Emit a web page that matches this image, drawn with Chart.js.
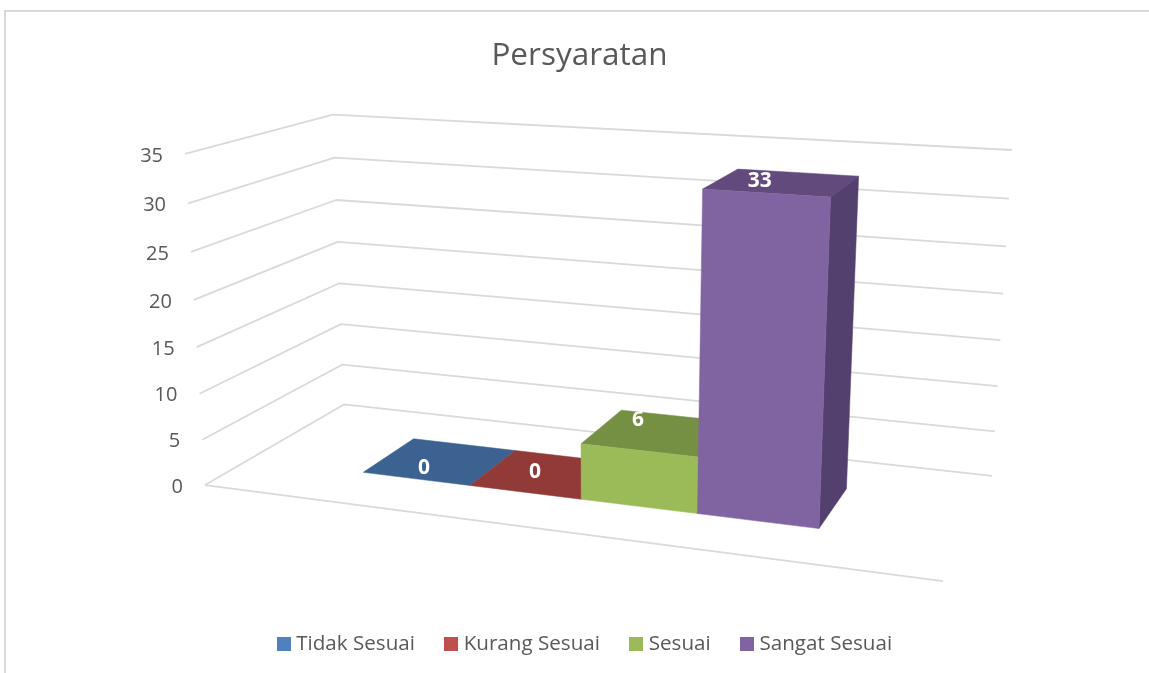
<!DOCTYPE html>
<html><head><meta charset="utf-8">
<style>html,body{margin:0;padding:0;background:#fff}canvas{display:block}</style>
<script src="https://cdn.jsdelivr.net/npm/chart.js@4"></script></head>
<body><div style="width:1149px;height:673px"><canvas id="c" width="1149" height="673"></canvas></div>
<script>
const categories = ["Persyaratan"];
const seriesNames = ["Tidak Sesuai","Kurang Sesuai","Sesuai","Sangat Sesuai"];
const seriesValues = [0,0,6,33];
const frontColors = ["#4F81BD","#C0504D","#9BBB59","#8064A2"];
const topColors = ["#3C6291","#923A38","#758F43","#624A7C"];
const sideColors = ["#2F4D73","#732D2B","#5D7235","#54406F"];
const legendColors = ["#4F81BD","#C0504D","#9BBB59","#8064A2"];
const yMax = 35, yStep = 5;

// Camera: box corners (u along categories, d into depth, w up) and where they appear.
const camera = [
 [0,0,0,205,485],[1,0,0,943,581],[1,1,0,992,476],[0,1,0,344,404.5],
 [0,0,1,185,154],[1,1,1,1012,150],[0,1,1,333,114.5]
];
const depthFront = 0.30, depthBack = 0.70, categoryPct = 0.645;
const labelNudge = [[8,-11],[10,-20],[-1,-30],[-6,-12]];

function solveCamera(pts){
  const A=[],b=[];
  pts.forEach(([u,d,w,x,y])=>{
    A.push([u,d,w,1,0,0,0,0,-x*u,-x*d,-x*w]);b.push(x);
    A.push([0,0,0,0,u,d,w,1,-y*u,-y*d,-y*w]);b.push(y);
  });
  const n=11,M=[];
  for(let i=0;i<n;i++){M.push([]);for(let j=0;j<n;j++){let s=0;A.forEach(r=>s+=r[i]*r[j]);M[i].push(s);}
    let s=0;A.forEach((r,k)=>s+=r[i]*b[k]);M[i].push(s);}
  for(let i=0;i<n;i++){let p=i;for(let k=i+1;k<n;k++)if(Math.abs(M[k][i])>Math.abs(M[p][i]))p=k;
    [M[i],M[p]]=[M[p],M[i]];
    for(let k=0;k<n;k++){if(k===i)continue;const f=M[k][i]/M[i][i];for(let j=i;j<=n;j++)M[k][j]-=f*M[i][j];}}
  return M.map((r,i)=>r[n]/r[i]);
}
const P=solveCamera(camera);
function project(u,d,w){
  const q=P[8]*u+P[9]*d+P[10]*w+1;
  return [(P[0]*u+P[1]*d+P[2]*w+P[3])/q,(P[4]*u+P[5]*d+P[6]*w+P[7])/q];
}
function poly(ctx,pts,fill){
  ctx.beginPath();pts.forEach((p,i)=>i?ctx.lineTo(p[0],p[1]):ctx.moveTo(p[0],p[1]));ctx.closePath();
  ctx.fillStyle=fill;ctx.strokeStyle=fill;ctx.lineWidth=0.5;ctx.fill();ctx.stroke();
}
function swatch(color){
  const s=document.createElement('canvas');s.width=14;s.height=14;
  const g=s.getContext('2d');g.fillStyle=color;g.fillRect(0,0,14,14);return s;
}
const FONT='"Open Sans", sans-serif';

const scene={
  id:'scene3d',
  beforeDraw(chart){
    const ctx=chart.ctx;ctx.save();
    ctx.fillStyle='#fff';ctx.fillRect(0,0,chart.width,chart.height);
    ctx.fillStyle='#D9D9D9';ctx.fillRect(4,10,chart.width-4,2);ctx.fillRect(4,10,2,chart.height-10);
    ctx.restore();
  },
  beforeDatasetsDraw(chart){
    const ctx=chart.ctx,a=chart.chartArea,y=chart.scales.y;
    const U=px=>(px-a.left)/(a.right-a.left), W=py=>(a.bottom-py)/(a.bottom-a.top);
    ctx.save();
    ctx.strokeStyle='#D9D9D9';ctx.lineWidth=1.8;ctx.lineJoin='round';
    // wall gridlines and tick labels from the value scale
    y.ticks.forEach((t,i)=>{
      const w=W(y.getPixelForTick(i));
      const s=project(0,0,w),m=project(0,1,w),e=project(1,1,w);
      ctx.beginPath();ctx.moveTo(s[0],s[1]);ctx.lineTo(m[0],m[1]);ctx.lineTo(e[0],e[1]);ctx.stroke();
      ctx.fillStyle='#595959';ctx.font='20px '+FONT;ctx.textAlign='right';ctx.textBaseline='middle';
      ctx.fillText(String(t.value),s[0]-22,s[1]+2);
    });
    const f0=project(0,0,0),f1=project(1,0,0);
    ctx.beginPath();ctx.moveTo(f0[0],f0[1]);ctx.lineTo(f1[0],f1[1]);ctx.stroke();
    // bars from the library's own elements
    const labels=[];
    chart.data.datasets.forEach((ds,i)=>{
      const el=chart.getDatasetMeta(i).data[0];
      const u0=U(el.x-el.width/2),u1=U(el.x+el.width/2),h=W(el.y),d0=depthFront,d1=depthBack;
      poly(ctx,[project(u0,d0,h),project(u1,d0,h),project(u1,d1,h),project(u0,d1,h)],topColors[i]);
      if(h>0){
        poly(ctx,[project(u1,d0,0),project(u1,d1,0),project(u1,d1,h),project(u1,d0,h)],sideColors[i]);
        poly(ctx,[project(u0,d0,0),project(u1,d0,0),project(u1,d0,h),project(u0,d0,h)],frontColors[i]);
      }
      const c=project((u0+u1)/2,d0,h);
      labels.push([String(ds.data[0]),c[0]+labelNudge[i][0],c[1]+labelNudge[i][1]]);
    });
    ctx.fillStyle='#fff';ctx.font='bold 21px '+FONT;ctx.textAlign='center';ctx.textBaseline='middle';
    labels.forEach(l=>ctx.fillText(l[0],l[1],l[2]));
    ctx.restore();
    return false;
  }
};

new Chart(document.getElementById('c'),{
  type:'bar',
  data:{labels:categories,datasets:seriesNames.map((n,i)=>({label:n,data:[seriesValues[i]],backgroundColor:legendColors[i],
    barPercentage:1,categoryPercentage:categoryPct}))},
  plugins:[scene],
  options:{
    responsive:false,animation:false,
    layout:{padding:{left:10,right:0,top:0,bottom:9}},
    scales:{
      x:{display:true,grid:{display:false},border:{display:false},ticks:{display:false},afterFit(s){s.height=130;}},
      y:{min:0,max:yMax,grid:{display:false},border:{display:false},ticks:{display:false,stepSize:yStep},afterFit(s){s.width=15;}}
    },
    plugins:{
      tooltip:{enabled:false},
      title:{display:true,text:'Persyaratan',color:'#595959',font:{family:FONT,size:31.5,weight:'normal'},padding:{top:37,bottom:56}},
      legend:{position:'bottom',fullSize:false,labels:{
        font:{family:FONT,size:20.6},color:'#595959',usePointStyle:true,pointStyleWidth:4,padding:34.5,
        generateLabels(chart){
          return Chart.defaults.plugins.legend.labels.generateLabels(chart).map((l,i)=>({...l,pointStyle:swatch(legendColors[i])}));
        }
      }}
    }
  }
});
</script></body></html>
